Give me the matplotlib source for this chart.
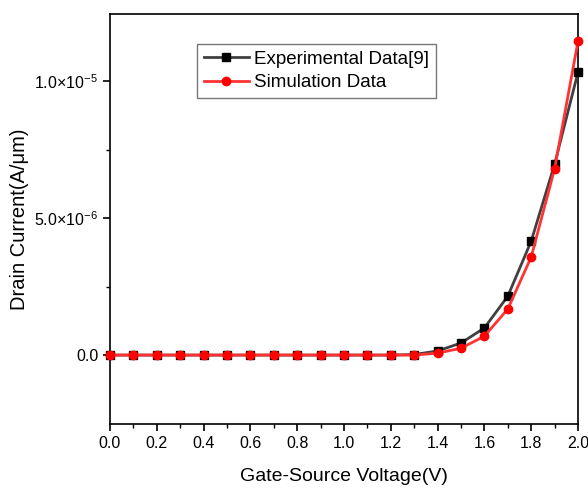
import matplotlib
matplotlib.use("Agg")
from matplotlib import pyplot as plt
from matplotlib.ticker import FixedLocator, MultipleLocator

plt.rcParams['font.family'] = ['Liberation Sans', 'DejaVu Sans']
plt.rcParams['mathtext.fontset'] = 'custom'
plt.rcParams['mathtext.rm'] = 'Liberation Sans'

vgs = [0.0, 0.1, 0.2, 0.3, 0.4, 0.5, 0.6, 0.7, 0.8, 0.9, 1.0,
       1.1, 1.2, 1.3, 1.4, 1.5, 1.6, 1.7, 1.8, 1.9, 2.0]
exp_id = [0, 0, 0, 0, 0, 0, 0, 0, 0, 0, 0,
          0, 0, 2e-8, 1.5e-7, 4.4e-7, 9.9e-7, 2.15e-6, 4.16e-6, 6.97e-6, 1.033e-5]
sim_id = [0, 0, 0, 0, 0, 0, 0, 0, 0, 0, 0,
          0, 0, 0, 7e-8, 2.5e-7, 6.9e-7, 1.68e-6, 3.58e-6, 6.8e-6, 1.146e-5]

yticks = [0.0, 5e-6, 1e-5]
ytick_labels = ['0.0', '5.0\u00d710$^{-6}$', '1.0\u00d710$^{-5}$']

fig = plt.figure(figsize=(5.88, 4.88), dpi=100)
ax = fig.add_axes([0.187, 0.131, 0.796, 0.840])

ax.plot(vgs, exp_id, color='#404040', lw=2, marker='s', ms=6,
        mfc='black', mec='black', label='Experimental Data[9]', clip_on=False, zorder=3)
ax.plot(vgs, sim_id, color='#ff3333', lw=2, marker='o', ms=6,
        mfc='red', mec='red', label='Simulation Data', clip_on=False, zorder=4)

ax.set_xlim(0, 2.0)
ax.set_ylim(-2.52e-6, 1.245e-5)
ax.xaxis.set_major_locator(MultipleLocator(0.2))
ax.xaxis.set_minor_locator(MultipleLocator(0.1))
ax.yaxis.set_major_locator(FixedLocator(yticks))
ax.set_yticklabels(ytick_labels)
ax.yaxis.set_minor_locator(FixedLocator([2.5e-6, 7.5e-6]))
ax.tick_params(which='both', direction='out', labelsize=11.5, color='black')
ax.tick_params(which='major', length=5, width=1.2)
ax.tick_params(which='minor', length=3, width=1.0)
for s in ax.spines.values():
    s.set_linewidth(1.2)

ax.set_xlabel('Gate-Source Voltage(V)', fontsize=14, labelpad=12)
ax.set_ylabel('Drain Current(A/\u03bcm)', fontsize=14.5, labelpad=4)

leg = ax.legend(loc='upper left', bbox_to_anchor=(0.186, 0.927), borderaxespad=0,
                fontsize=13.5, frameon=True, fancybox=False, edgecolor='#555555',
                handlelength=2.4, borderpad=0.35, labelspacing=0.35, handletextpad=0.3)
leg.get_frame().set_linewidth(1.0)

fig.savefig('out.png', dpi=100)
